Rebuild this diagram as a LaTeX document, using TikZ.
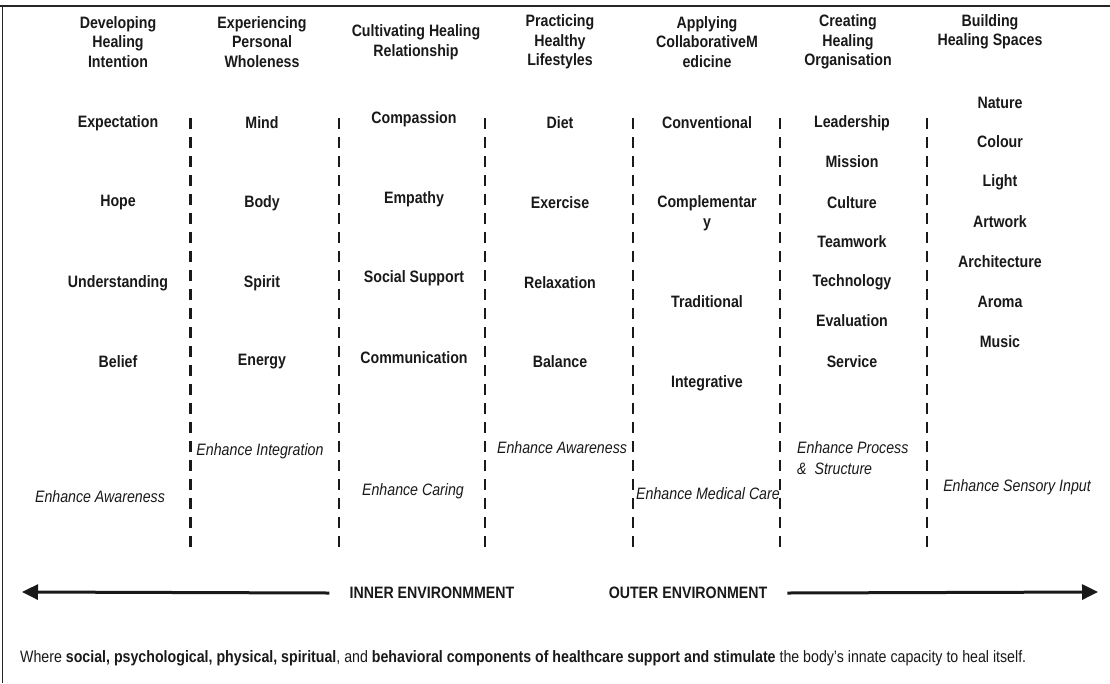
\documentclass[tikz,border=0pt]{standalone}
\usepackage{fontspec}
\setmainfont{Liberation Sans}[FakeStretch=0.86]
\usetikzlibrary{arrows.meta}
\tikzset{
  hd/.style={font=\fontsize{16.5}{19.5}\selectfont\bfseries, align=center, inner sep=0pt, text=black!90},
  it/.style={font=\fontsize{16.5}{21}\selectfont\itshape, inner sep=0pt, text=black!90},
  sepline/.style={line width=2.5pt, dash pattern=on 10.5pt off 8.5pt, black!90},
  arr/.style={line width=3pt, black!90, -{Triangle[length=16pt,width=15pt]}},
  frame/.style={line width=2.5pt, black!85}
}
\begin{document}
\begin{tikzpicture}[x=1pt,y=-1pt]
\useasboundingbox (0,0) rectangle (1110,683);
% frame
\draw[frame] (0,6) -- (1110,6);
\draw[line width=1.8pt, black!85] (2.5,6) -- (2.5,683);
% separators
\foreach \x in {190.5,339,485,633,780,927}
  \draw[sepline] (\x,118) -- (\x,549);
% headers
\node[hd] (h1) at (118,42) {Developing\\Healing\\Intention};
\node[hd] (h2) at (262,42) {Experiencing\\Personal\\Wholeness};
\node[hd] (h3) at (416,42) {Cultivating Healing\\Relationship};
\node[hd] (h4) at (560,42) {Practicing\\Healthy\\Lifestyles};
\node[hd] (h5) at (707,42) {Applying\\CollaborativeM\\edicine};
\node[hd] (h6) at (848,42) {Creating\\Healing\\Organisation};
\node[hd] (h7) at (990,32) {Building\\Healing Spaces};
% column 1
\node[hd] (c1a) at (118,123) {Expectation};
\node[hd] (c1b) at (118,203) {Hope};
\node[hd] (c1c) at (118,283) {Understanding};
\node[hd] (c1d) at (118,362) {Belief};
% column 2
\node[hd] (c2a) at (262,123) {Mind};
\node[hd] (c2b) at (262,203) {Body};
\node[hd] (c2c) at (262,283) {Spirit};
\node[hd] (c2d) at (262,362) {Energy};
% column 3
\node[hd] (c3a) at (414,119) {Compassion};
\node[hd] (c3b) at (414,199) {Empathy};
\node[hd] (c3c) at (414,278) {Social Support};
\node[hd] (c3d) at (414,358) {Communication};
% column 4
\node[hd] (c4a) at (560,123) {Diet};
\node[hd] (c4b) at (560,203) {Exercise};
\node[hd] (c4c) at (560,283) {Relaxation};
\node[hd] (c4d) at (560,362) {Balance};
% column 5
\node[hd] (c5a) at (707,123) {Conventional};
\node[hd] (c5b) at (707,213) {Complementar\\y};
\node[hd] (c5c) at (707,302) {Traditional};
\node[hd] (c5d) at (707,383) {Integrative};
% column 6
\node[hd] (c6a) at (852,123) {Leadership};
\node[hd] (c6b) at (852,162) {Mission};
\node[hd] (c6c) at (852,203) {Culture};
\node[hd] (c6d) at (852,242) {Teamwork};
\node[hd] (c6e) at (852,282) {Technology};
\node[hd] (c6f) at (852,321) {Evaluation};
\node[hd] (c6g) at (852,362) {Service};
% column 7
\node[hd] (c7a) at (1000,103) {Nature};
\node[hd] (c7b) at (1000,142) {Colour};
\node[hd] (c7c) at (1000,182) {Light};
\node[hd] (c7d) at (1000,222) {Artwork};
\node[hd] (c7e) at (1000,262) {Architecture};
\node[hd] (c7f) at (1000,302) {Aroma};
\node[hd] (c7g) at (1000,342) {Music};
% enhance labels
\node[it] (e1) at (100,497) {Enhance Awareness};
\node[it] (e2) at (260,451) {Enhance Integration};
\node[it] (e3) at (413,491) {Enhance Caring};
\node[it] (e4) at (562,448) {Enhance Awareness};
\node[it] (e5) at (708,494) {Enhance Medical Care};
\node[it, align=left, anchor=west] (e6) at (797,458.5) {Enhance Process\\\&\ \ Structure};
\node[it] (e7) at (1017,487) {Enhance Sensory Input};
% environment arrows
\node[hd] (inner) at (432,593) {INNER ENVIRONMMENT};
\node[hd] (outer) at (688,593) {OUTER ENVIRONMENT};
\coordinate (lend) at (22,592);
\coordinate (rend) at (1098,592);
\draw[arr] ([xshift=-20pt]inner.west) -- (lend);
\draw[arr] ([xshift=20pt]outer.east) -- (rend);
% bottom sentence
\node[font=\fontsize{16.5}{19}\selectfont, anchor=west, inner sep=0pt, text=black!90] (note) at (20,658)
  {Where \textbf{social, psychological, physical, spiritual}, and \textbf{behavioral components of healthcare support and stimulate} the body’s innate capacity to heal itself.};
\end{tikzpicture}
\end{document}
